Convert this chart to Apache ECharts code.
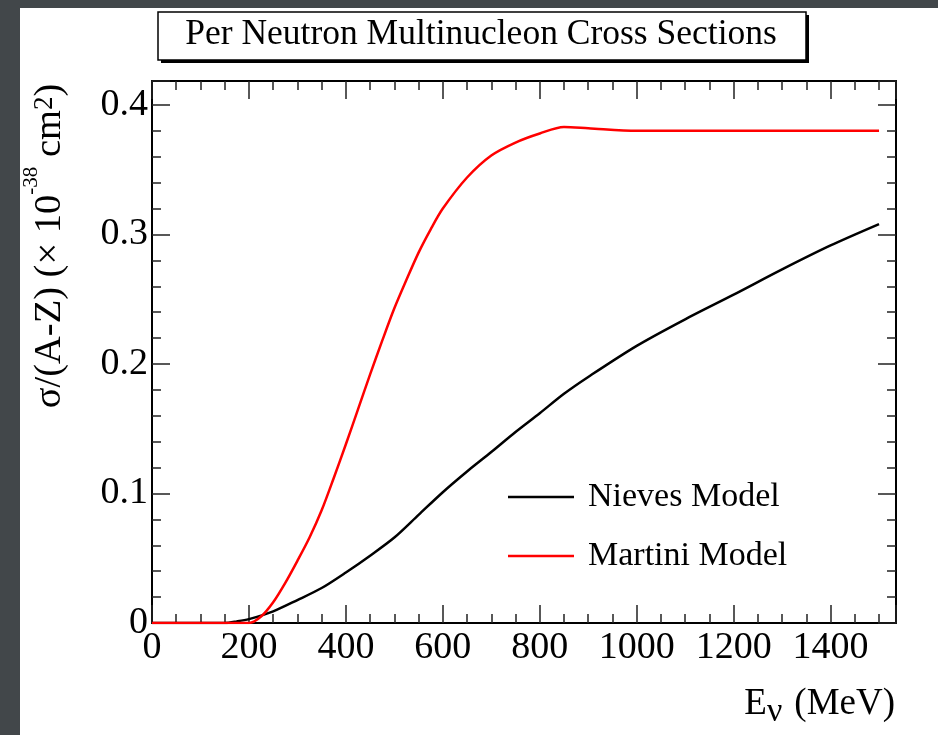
<!DOCTYPE html>
<html><head><meta charset="utf-8">
<script src="https://cdn.jsdelivr.net/npm/echarts@6/dist/echarts.min.js"></script>
<style>
html,body{margin:0;padding:0;background:#42474a;width:938px;height:735px;overflow:hidden}
#c{position:absolute;left:20px;top:8px;width:918px;height:727px;background:#fff}
</style></head><body><div id="c"></div>
<script>
// Data
const titleText = 'Per Neutron Multinucleon Cross Sections';
const seriesNames = ['Nieves Model', 'Martini Model'];
const energyNieves = [0, 50, 100, 150, 175, 200, 250, 300, 350, 400, 450, 500, 550, 600, 650, 700, 750, 800, 850, 900, 1000, 1100, 1200, 1300, 1400, 1500];
const nieves = [0, 0, 0, 0, 0.0012, 0.003, 0.009, 0.0177, 0.027, 0.039, 0.052, 0.066, 0.0835, 0.101, 0.117, 0.132, 0.1475, 0.162, 0.177, 0.190, 0.214, 0.2345, 0.2535, 0.273, 0.2915, 0.308];
const energyMartini = [0, 100, 200, 225, 250, 275, 300, 325, 350, 375, 400, 425, 450, 475, 500, 525, 550, 575, 600, 650, 700, 750, 800, 850, 900, 1000, 1100, 1200, 1300, 1400, 1500];
const martini = [0, 0, 0, 0.005, 0.016, 0.031, 0.048, 0.066, 0.087, 0.112, 0.138, 0.165, 0.192, 0.218, 0.243, 0.265, 0.286, 0.304, 0.320, 0.344, 0.361, 0.371, 0.378, 0.383, 0.382, 0.380, 0.380, 0.380, 0.380, 0.380, 0.380];
const xMin = 0, xMax = 1535, xStep = 200;
const yMin = 0, yMax = 0.4185, yStep = 0.1;

const SERIF = "'Liberation Serif', 'DejaVu Serif', serif";
const toPairs = (xs, ys) => xs.map((x, i) => [x, ys[i]]);

const tickStyle = {color: '#222', width: 1.5};
function xAx(pos, labels) {
  return {
    type: 'value', min: xMin, max: xMax, interval: xStep, position: pos,
    axisLine: {show: true, onZero: false, lineStyle: {color: '#000', width: 2}},
    axisTick: {show: true, inside: true, length: 18, lineStyle: tickStyle},
    minorTick: {show: true, splitNumber: 4, length: 9, lineStyle: tickStyle},
    splitLine: {show: false}, minorSplitLine: {show: false},
    axisLabel: labels ? {show: true, margin: 6, fontSize: 38, fontFamily: SERIF, color: '#000',
      formatter: v => (Math.abs(v % xStep) < 1e-6 ? String(v) : '')} : {show: false}
  };
}
function yAx(pos, labels) {
  return {
    type: 'value', min: yMin, max: yMax, interval: yStep, position: pos,
    axisLine: {show: true, onZero: false, lineStyle: {color: '#000', width: 2}},
    axisTick: {show: true, inside: true, length: 18, lineStyle: tickStyle},
    minorTick: {show: true, splitNumber: 5, length: 9, lineStyle: tickStyle},
    splitLine: {show: false}, minorSplitLine: {show: false},
    axisLabel: labels ? {show: true, margin: 4, fontSize: 38, fontFamily: SERIF, color: '#000',
      formatter: v => {
        const k = v / yStep;
        if (Math.abs(k - Math.round(k)) > 1e-6) return '';
        return v === 0 ? '0' : v.toFixed(1);
      }} : {show: false}
  };
}

const chart = echarts.init(document.getElementById('c'), null, {renderer: 'canvas'});
chart.setOption({
  animation: false,
  backgroundColor: '#fff',
  grid: {left: 132, right: 42, top: 73, bottom: 112, containLabel: false},
  xAxis: [xAx('bottom', true), xAx('top', false)],
  yAxis: [yAx('left', true), yAx('right', false)],
  legend: {
    data: seriesNames, orient: 'vertical', left: 488, top: 472, padding: 0,
    icon: 'rect', itemWidth: 66, itemHeight: 2.5, itemGap: 25,
    textStyle: {fontSize: 34, fontFamily: SERIF, color: '#000', padding: [0, 0, 0, 9]}
  },
  graphic: [
    {type: 'rect', shape: {x: 141, y: 7, width: 648, height: 48}, style: {fill: '#000'}, z: 10},
    {type: 'rect', shape: {x: 138, y: 4, width: 648, height: 48}, style: {fill: '#fff', stroke: '#000', lineWidth: 1.5}, z: 11},
    {type: 'text', x: 461, y: 27, z: 12, style: {text: titleText, font: '35.5px ' + SERIF, fill: '#000', align: 'center', verticalAlign: 'middle'}},
    {type: 'text', x: 875, y: 696, z: 12, style: {
      text: '{a|E}{b|ν}{a|(MeV)}', align: 'right', verticalAlign: 'middle',
      rich: {a: {fontSize: 37, fontFamily: SERIF, fill: '#000'}, b: {fontSize: 34, fontFamily: SERIF, fill: '#000', padding: [17, 12, 0, 0]}}
    }},
    {type: 'text', x: 30, y: 238, rotation: Math.PI / 2, z: 12, style: {
      text: '{a|σ/(A-Z) (× 10}{s|-38}{a| cm}{t|2}{a|)}', align: 'center', verticalAlign: 'middle',
      rich: {
        a: {fontSize: 38.5, fontFamily: SERIF, fill: '#000'},
        s: {fontSize: 21, fontFamily: SERIF, fill: '#000', padding: [0, 0, 38, 0]},
        t: {fontSize: 27, fontFamily: SERIF, fill: '#000', padding: [0, 0, 10, 0]}
      }
    }}
  ],
  series: [
    {name: seriesNames[0], type: 'line', data: toPairs(energyNieves, nieves), showSymbol: false, symbol: 'none',
      lineStyle: {color: '#000', width: 2.5}, itemStyle: {color: '#000'}, smooth: 0.3},
    {name: seriesNames[1], type: 'line', data: toPairs(energyMartini, martini), showSymbol: false, symbol: 'none',
      lineStyle: {color: '#ff0000', width: 2.5}, itemStyle: {color: '#ff0000'}, smooth: 0.3}
  ]
});
</script></body></html>
